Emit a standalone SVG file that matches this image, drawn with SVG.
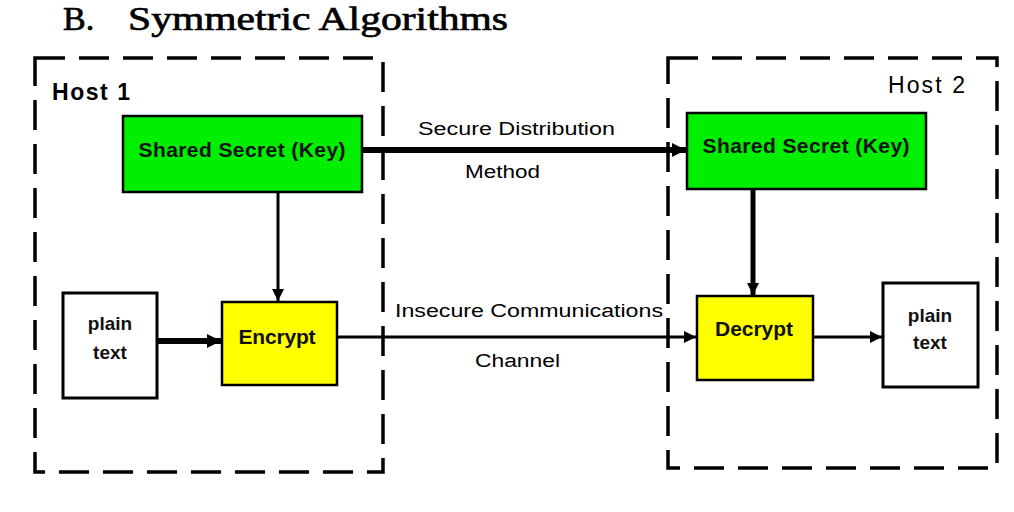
<svg xmlns="http://www.w3.org/2000/svg" width="1014" height="512" viewBox="0 0 1014 512">
<defs>
<style>
.host{fill:none;stroke:#000;stroke-width:3.5;stroke-dasharray:30 14}
.key{fill:#00ee00;stroke:#000;stroke-width:2.5}
.op{fill:#ffff00;stroke:#000;stroke-width:2.5}
.pt{fill:#fff;stroke:#000;stroke-width:3}
.lbl{font-family:"Liberation Sans",Arial,sans-serif;font-weight:bold;fill:#111;text-anchor:middle}
.edge{font-family:"Liberation Sans",Arial,sans-serif;fill:#000;font-size:18px}
.ln{fill:none;stroke:#000}
.title{font-family:"Liberation Serif","Times New Roman",serif;font-size:34px;fill:#000;stroke:#000;stroke-width:0.7}
</style>
<marker id="ah" viewBox="0 0 10 10" refX="10" refY="5" markerWidth="4" markerHeight="4" markerUnits="strokeWidth" orient="auto"><path d="M0,0 L10,5 L0,10 z" fill="#000"/></marker>
<marker id="ahs" viewBox="0 0 10 10" refX="10" refY="5" markerWidth="2.4" markerHeight="2.4" markerUnits="strokeWidth" orient="auto"><path d="M0,0 L10,5 L0,10 z" fill="#000"/></marker>
</defs>
<rect width="1014" height="512" fill="#fff"/>
<text class="title" x="63" y="30">B.</text>
<text class="title" x="128" y="30" textLength="380" lengthAdjust="spacingAndGlyphs">Symmetric Algorithms</text>

<g id="host1">
<rect class="host" x="35" y="58" width="348" height="414"/>
<text x="52" y="100" font-family="'Liberation Sans',Arial,sans-serif" font-weight="bold" font-size="23" textLength="78">Host 1</text>
</g>
<g id="host2">
<rect class="host" x="668" y="58" width="329" height="410"/>
<text x="888" y="93" font-family="'Liberation Sans',Arial,sans-serif" font-size="23" textLength="77">Host 2</text>
</g>

<g id="connectors">
<line class="ln" x1="278" y1="192" x2="278" y2="301" stroke-width="3" marker-end="url(#ah)"/>
<line class="ln" x1="753" y1="189" x2="753" y2="295" stroke-width="5" marker-end="url(#ahs)"/>
<line class="ln" x1="157" y1="341" x2="221" y2="341" stroke-width="6" marker-end="url(#ahs)"/>
<line class="ln" x1="362" y1="150" x2="686" y2="150" stroke-width="6" marker-end="url(#ahs)"/>
<line class="ln" x1="337" y1="337" x2="696" y2="337" stroke-width="3" marker-end="url(#ah)"/>
<line class="ln" x1="813" y1="337" x2="882" y2="337" stroke-width="3" marker-end="url(#ah)"/>
<text class="edge" x="418" y="135" textLength="197" lengthAdjust="spacingAndGlyphs">Secure Distribution</text>
<text class="edge" x="465" y="178" textLength="75" lengthAdjust="spacingAndGlyphs">Method</text>
<text class="edge" x="395" y="317" textLength="268" lengthAdjust="spacingAndGlyphs">Insecure Communications</text>
<text class="edge" x="475" y="367" textLength="85" lengthAdjust="spacingAndGlyphs">Channel</text>
</g>

<g id="key1">
<rect class="key" x="123" y="116" width="239" height="76"/>
<text class="lbl" x="242" y="157" font-size="21" textLength="207">Shared Secret (Key)</text>
</g>
<g id="key2">
<rect class="key" x="687" y="113" width="239" height="76"/>
<text class="lbl" x="806" y="153" font-size="21" textLength="207">Shared Secret (Key)</text>
</g>
<g id="plain1">
<rect class="pt" x="63" y="293" width="94" height="105"/>
<text class="lbl" x="110" y="330" font-size="19">plain</text>
<text class="lbl" x="110" y="359" font-size="19">text</text>
</g>
<g id="encrypt">
<rect class="op" x="222" y="302" width="115" height="83"/>
<text class="lbl" x="277" y="344" font-size="21" textLength="77">Encrypt</text>
</g>
<g id="decrypt">
<rect class="op" x="697" y="296" width="116" height="84"/>
<text class="lbl" x="754" y="336" font-size="21" textLength="78">Decrypt</text>
</g>
<g id="plain2">
<rect class="pt" x="883" y="283" width="95" height="104" stroke-width="4"/>
<text class="lbl" x="930" y="322" font-size="19">plain</text>
<text class="lbl" x="930" y="349" font-size="19">text</text>
</g>
</svg>
